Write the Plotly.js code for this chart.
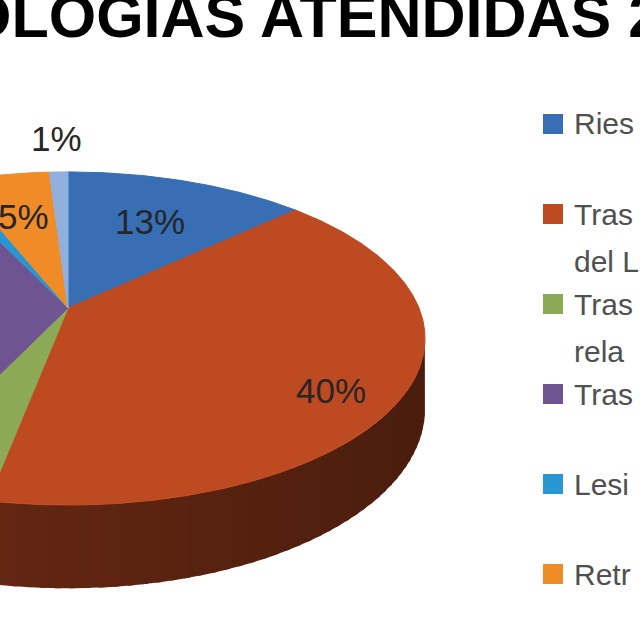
<!DOCTYPE html>
<html>
<head>
<meta charset="utf-8">
<script src="https://cdn.plot.ly/plotly-3.0.1.min.js"></script>
<style>
  html, body { margin: 0; padding: 0; background: #fff; }
</style>
</head>
<body>
<div id="chart" style="width:640px;height:640px"></div>
<script>
// what is visible of the chart (title and legend are cut off by the frame)
const titleText = 'OLOGIAS ATENDIDAS 2';
const categories = ['Ries', 'Tras\ndel L', 'Tras\nrela', 'Tras', 'Lesi', 'Retr', ''];
const values = [13, 40, 4, 36, 1, 5, 1];
const colors = ['#376eb4', '#be4a22', '#8caa55', '#6e5591', '#2896d2', '#f08c28', '#91afdc'];

// 3d pie look: projected centre, radii, perspective and thickness (pixels)
const cx = 68, cy = 308, rx = 351, ry = 161, persp = 0.183, depth = 68;
const DEG = Math.PI / 180;

function project(theta, r) {
  const s = Math.sin(theta), c = Math.cos(theta);
  const p = 1 / (1 + persp * c * r);
  return [cx + rx * s * r * p, cy - ry * c * r * p];
}

function shade(hex, f) {
  const n = parseInt(hex.slice(1), 16);
  const ch = [(n >> 16) & 255, (n >> 8) & 255, n & 255].map(v => Math.round(v * f));
  return `rgb(${ch.join(',')})`;
}

function polyTrace(xs, ys, color, lw) {
  return {
    type: 'scatter', x: xs, y: ys, mode: 'lines', fill: 'toself',
    fillcolor: color, line: { color: color, width: lw },
    hoverinfo: 'skip', showlegend: false
  };
}

const total = values.reduce((a, b) => a + b, 0);
const sideTraces = [];
const topTraces = [];
const annotations = [];

// the side wall is seen between the two silhouette points
const sideFrom = Math.acos(-persp);
const sideTo = 2 * Math.PI - sideFrom;

let acc = 0;
values.forEach((v, i) => {
  const a0 = acc / total * 2 * Math.PI;
  acc += v;
  const a1 = acc / total * 2 * Math.PI;

  // top face
  const xs = [cx], ys = [cy];
  const steps = Math.max(2, Math.ceil((a1 - a0) / (0.5 * DEG)));
  for (let k = 0; k <= steps; k++) {
    const [x, y] = project(a0 + (a1 - a0) * k / steps, 1);
    xs.push(x); ys.push(y);
  }
  xs.push(cx); ys.push(cy);
  topTraces.push(polyTrace(xs, ys, colors[i], 1));

  // side wall, in overlapping strips so it can be shaded
  const s0 = Math.max(a0, sideFrom), s1 = Math.min(a1, sideTo);
  if (s1 > s0) {
    const strips = Math.max(1, Math.ceil((s1 - s0) / (2 * DEG)));
    for (let k = 0; k < strips; k++) {
      const t0 = s0 + (s1 - s0) * k / strips;
      const t1 = Math.min(s1, s0 + (s1 - s0) * (k + 1) / strips + 0.8 * DEG);
      const sx = [], sy = [];
      for (let j = 0; j <= 6; j++) {
        const t = t0 + (t1 - t0) * j / 6;
        const [x, y] = project(t, 1);
        sx.push(x); sy.push(y);
      }
      for (let j = 6; j >= 0; j--) {
        const t = t0 + (t1 - t0) * j / 6;
        const [x, y] = project(t, 1);
        sx.push(x); sy.push(y + depth / (1 + persp * Math.cos(t)));
      }
      const mid = (t0 + t1) / 2;
      sideTraces.push(polyTrace(sx, sy, shade(colors[i], 0.5 - 0.12 * Math.sin(mid)), 0));
    }
  }

  // percentage label (the ones left of the frame are not drawn)
  const mid = (a0 + a1) / 2;
  const c = Math.cos(mid);
  const front = Math.max(0, -c);
  const outside = v / total < 0.02;
  const r = outside ? 1.3 : 0.65 + 0.3 * front;
  const [lx, ly] = project(mid, r);
  if (lx < 0) return;
  annotations.push({
    x: lx / 640, y: 1 - (ly + (outside ? 0 : 0.5 * depth * front)) / 640,
    xref: 'paper', yref: 'paper', xanchor: 'center', yanchor: 'middle', showarrow: false,
    text: Math.round(v / total * 100) + '%',
    font: { family: 'Liberation Sans, Arial, sans-serif', size: 35, color: '#262626' }
  });
});

// title, cut at both sides like the picture
annotations.push({
  x: -38 / 640, y: 1 - 16 / 640, xref: 'paper', yref: 'paper', xanchor: 'left', yanchor: 'middle',
  showarrow: false, text: '<b>' + titleText + '</b>',
  font: { family: 'Liberation Sans, Arial, sans-serif', size: 61, color: '#000' }
});

// legend drawn by hand so it can run off the right edge
const shapes = [];
const legendTop = 124, legendStep = 90, lineStep = 47;
categories.forEach((name, i) => {
  if (!name) return;
  const y = legendTop + i * legendStep;
  shapes.push({
    type: 'rect', xref: 'x', yref: 'y', x0: 543, x1: 563, y0: y - 10, y1: y + 10,
    fillcolor: colors[i], line: { width: 0 }
  });
  name.split('\n').forEach((line, j) => {
    annotations.push({
      x: 572 / 640, y: 1 - (y + j * lineStep) / 640, xref: 'paper', yref: 'paper',
      xanchor: 'left', yanchor: 'middle', showarrow: false, text: line,
      font: { family: 'Liberation Sans, Arial, sans-serif', size: 30, color: '#505050' }
    });
  });
});

const layout = {
  width: 640,
  height: 640,
  margin: { l: 0, r: 0, t: 0, b: 0 },
  paper_bgcolor: '#ffffff',
  plot_bgcolor: '#ffffff',
  showlegend: false,
  xaxis: { range: [0, 640], visible: false, fixedrange: true },
  yaxis: { range: [640, 0], visible: false, fixedrange: true },
  shapes: shapes,
  annotations: annotations
};

Plotly.newPlot('chart', sideTraces.concat(topTraces), layout, { staticPlot: true, displayModeBar: false });
</script>
</body>
</html>
